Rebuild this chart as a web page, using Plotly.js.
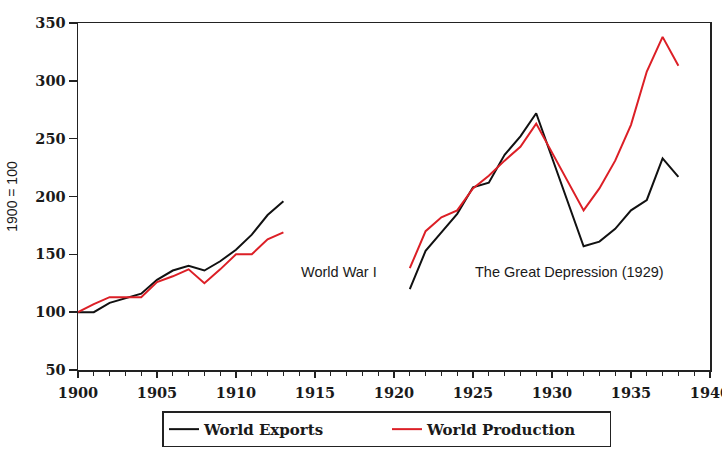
<!DOCTYPE html>
<html>
<head>
<meta charset="utf-8">
<script src="https://cdn.plot.ly/plotly-3.0.1.min.js"></script>
<style>html,body{margin:0;padding:0;background:#fff;}#chart{width:722px;height:451px;}</style>
</head>
<body>
<div id="chart"></div>
<script>
// Pre-war period (1900 = 100)
const prewarYears = [1900,1901,1902,1903,1904,1905,1906,1907,1908,1909,1910,1911,1912,1913];
const prewarExports = [100,100,108,112,116,128,136,140,136,144,154,167,184,196];
const prewarProduction = [100,107,113,113,113,126,131,137,125,137,150,150,163,169];

// Inter-war period
const interwarYears = [1921,1922,1923,1924,1925,1926,1927,1928,1929,1932,1933,1934,1935,1936,1937,1938];
const interwarExports = [120,153,169,185,208,212,236,252,272,157,161,172,188,197,233,217];
const interwarProduction = [138,170,182,188,207,218,231,243,263,188,207,231,262,308,338,313];

const seriesNames = ["World Exports", "World Production"];
const axisLabel = "1900 = 100";
const notes = [
  {text: "World War I", x: 1916.5, y: 135},
  {text: "The Great Depression (1929)", x: 1931.1, y: 135}
];

const black = "#111111";
const red = "#dc1f26";
const sans = "Liberation Sans, Arial, sans-serif";
const serif = "DejaVu Serif, Liberation Serif, serif";

const traces = [
  {x: prewarYears, y: prewarExports, name: seriesNames[0], legendgroup: "e", mode: "lines", line: {color: black, width: 2}},
  {x: prewarYears, y: prewarProduction, name: seriesNames[1], legendgroup: "p", mode: "lines", line: {color: red, width: 2}},
  {x: interwarYears, y: interwarExports, name: seriesNames[0], legendgroup: "e", showlegend: false, mode: "lines", line: {color: black, width: 2}},
  {x: interwarYears, y: interwarProduction, name: seriesNames[1], legendgroup: "p", showlegend: false, mode: "lines", line: {color: red, width: 2}}
];

const tickFont = {family: serif, size: 14.5, color: "#1a1a1a", weight: "bold"};

const layout = {
  width: 722, height: 451,
  margin: {l: 77.5, r: 11.5, t: 22.5, b: 81},
  paper_bgcolor: "#fff", plot_bgcolor: "#fff",
  font: {family: serif, size: 14, color: "#1a1a1a"},
  showlegend: true,
  legend: {
    orientation: "h", xref: "container", yref: "container",
    x: 0.536, xanchor: "center", y: 0.008, yanchor: "bottom",
    bordercolor: "#222", borderwidth: 1.5,
    entrywidth: 178, entrywidthmode: "pixels",
    font: {family: serif, size: 15, color: "#1a1a1a", weight: "bold"},
    traceorder: "normal"
  },
  xaxis: {
    range: [1900, 1940], dtick: 5, tick0: 1900,
    showgrid: false, zeroline: false,
    showline: true, mirror: true, linecolor: "#222", linewidth: 1.5,
    ticks: "outside", ticklen: 6, tickwidth: 1.5, tickcolor: "#222",
    minor: {dtick: 1, ticks: "outside", ticklen: 4, tickwidth: 1.2, tickcolor: "#222"},
    tickfont: tickFont, ticklabeloverflow: "allow", ticklabelstandoff: 3
  },
  yaxis: {
    range: [50, 350], dtick: 50, tick0: 50,
    showgrid: false, zeroline: false,
    showline: true, mirror: true, linecolor: "#222", linewidth: 1.5,
    ticks: "outside", ticklen: 8, tickwidth: 1.5, tickcolor: "#222",
    tickfont: tickFont,
    title: {text: axisLabel, font: {family: sans, size: 14, color: "#1a1a1a"}, standoff: 14}
  },
  annotations: notes.map(n => ({
    text: n.text, x: n.x, y: n.y, xref: "x", yref: "y",
    showarrow: false, font: {family: sans, size: 14.5, color: "#1a1a1a"}
  }))
};

Plotly.newPlot("chart", traces, layout, {displayModeBar: false, staticPlot: true});
</script>
</body>
</html>
